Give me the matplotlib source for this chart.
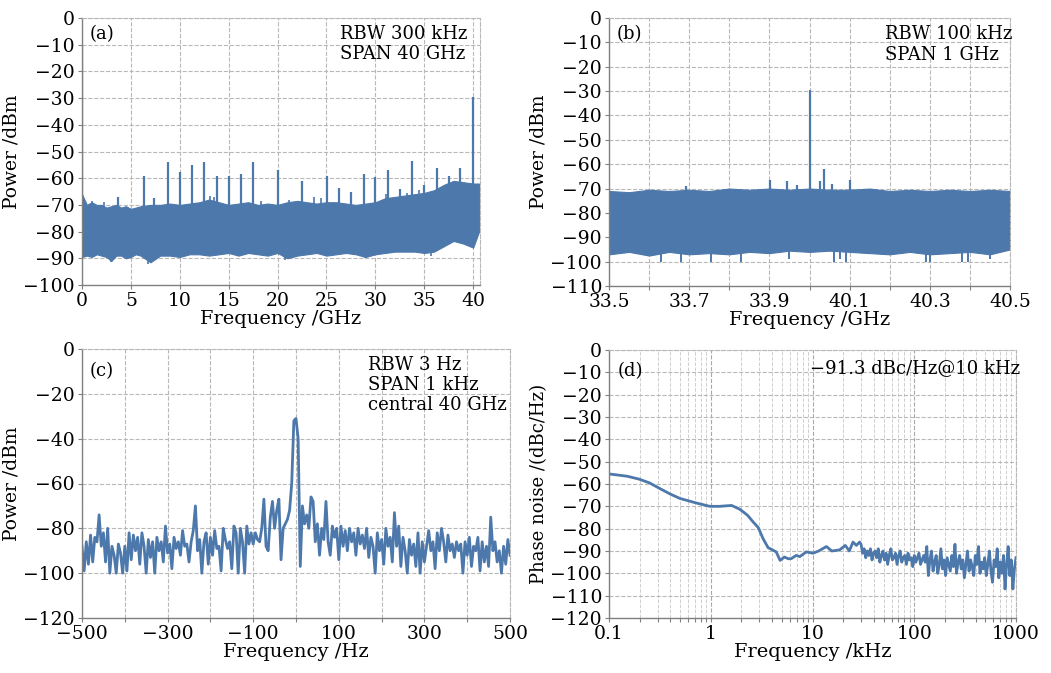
import numpy as np
import matplotlib
matplotlib.use("Agg")
import matplotlib.pyplot as plt
from matplotlib.ticker import FixedLocator, NullFormatter, FuncFormatter

plt.rcParams["font.family"] = ["DejaVu Serif"]
plt.rcParams["font.size"] = 12

BLUE = "#4d78ab"
GRID = "#b8b8b8"

# ---- (a) wide span, 0-40.6 GHz: noise-floor envelope + harmonic spikes
env_a_f = [0, 0.5, 1, 1.5, 2, 2.5, 3, 3.5, 4, 4.5, 5, 5.5, 6, 7, 8, 9, 10, 11, 12, 13, 14, 15,
           16, 17, 18, 19, 20, 21, 22, 23, 24, 25, 26, 27, 28, 29, 30, 31, 32, 33, 34, 35,
           36, 37, 38, 39, 40, 40.6]
env_a_hi = [-66, -70, -69, -70, -70, -71, -70.5, -70, -71, -70.5, -71.5, -71, -70.5, -70,
            -70, -69.5, -70, -69.5, -69, -68, -69, -70, -69.5, -69, -70, -69.5, -70, -69,
            -68.5, -69, -69.5, -69, -69, -69.5, -70, -69.5, -69, -67.5, -67, -66.5, -66,
            -65.5, -64.5, -62.5, -61, -61.5, -62, -62]
env_a_lo = [-89.5, -89, -89.5, -88.5, -89, -89.5, -91, -89, -89, -90, -89.5, -88.5, -89,
            -91.5, -89, -89, -89.5, -88.5, -88.5, -89, -88.5, -88, -89, -88, -88.5, -89,
            -88, -90, -89, -88.5, -88, -89, -88.5, -88, -88.5, -89.5, -88.5, -88, -87.5,
            -87.5, -87.5, -88, -87.5, -85.5, -83.5, -84.5, -86, -80]
spike_a_f = [0.02, 3.7, 6.3, 7.4, 8.75, 10.0, 11.25, 12.5, 13.85, 15.05, 16.25, 17.5, 20.0,
             22.5, 25.05, 26.3, 27.55, 28.8, 30.0, 31.3, 32.5, 33.75, 35.0, 36.3, 37.5, 38.7, 40.0]
spike_a_p = [-10, -67, -59, -67.5, -54, -57.5, -55, -54, -59, -59, -58.5, -54, -57, -61, -59,
             -63.5, -65, -58.5, -59.5, -57, -64, -53.5, -62.5, -56, -59, -56, -29.5]
small_a_f = [1.0, 2.2, 13.1, 13.5, 18.3, 21.2, 23.7, 24.4, 31.1, 33.2, 34.5]
small_a_p = [-68.5, -69, -66.5, -67, -68.5, -68, -67, -67.5, -66, -65.5, -64.5]
dip_a_f = [3.0, 6.8, 20.8, 28.9, 35.7]
dip_a_p = [-91.5, -92, -90.5, -90, -89]

# ---- (b) 1 GHz span around the tone
env_b_f = [0, 0.05, 0.1, 0.15, 0.2, 0.25, 0.3, 0.35, 0.4, 0.45, 0.5, 0.55, 0.6, 0.65, 0.7,
           0.75, 0.8, 0.85, 0.9, 0.95, 1.0]
env_b_hi = [-71, -71.5, -70.5, -71, -70.5, -71, -70, -70.5, -70, -70.5, -70, -70.5, -70.5,
            -70, -71, -70.5, -71, -70.5, -71, -70.5, -71]
env_b_lo = [-97, -96, -97.5, -96, -97, -96.5, -97, -96, -96.5, -95.5, -96, -95.5, -96, -96.5,
            -97, -96, -97, -96.5, -96, -97, -95]
spike_b_f = [0.193, 0.401, 0.445, 0.469, 0.502, 0.526, 0.536, 0.555, 0.601]
spike_b_p = [-69, -66.5, -67, -68.5, -29.5, -67, -62, -68, -66.5]
dip_b_f = [0.13, 0.18, 0.255, 0.33, 0.45, 0.56, 0.575, 0.59, 0.79, 0.80, 0.88, 0.895, 0.95]
dip_b_p = [-100, -100, -100, -100, -99, -100, -99, -100, -100, -100, -100, -100, -99]
tick_b_labels = ["33.5", "", "33.7", "", "33.9", "", "40.1", "", "40.3", "", "40.5"]

# ---- (c) 1 kHz span, 5 Hz steps from -500 to 500 Hz
power_c = [
    -88, -99, -86, -96, -83, -95, -84, -86, -74, -88,
    -82, -95, -80, -100, -88, -92, -100, -87, -91, -100,
    -88, -99, -82, -94, -83, -90, -84, -96, -82, -88,
    -100, -85, -93, -86, -100, -84, -90, -86, -95, -79,
    -91, -87, -98, -84, -89, -86, -92, -81, -88, -87,
    -95, -86, -81, -70, -90, -85, -100, -86, -82, -96,
    -84, -92, -81, -89, -88, -99, -80, -85, -89, -86,
    -98, -79, -82, -100, -80, -86, -100, -79, -87, -82,
    -87, -82, -85, -86, -80, -67, -88, -90, -75, -68,
    -80, -72, -67, -94, -80, -78, -76, -72, -60, -32,
    -31,
    -40, -97, -70, -78, -74, -80, -66, -68, -86, -78,
    -92, -80, -85, -68, -86, -92, -79, -84, -80, -94,
    -79, -88, -81, -90, -80, -86, -82, -92, -80, -87,
    -83, -89, -80, -93, -84, -88, -100, -82, -90, -85,
    -96, -80, -88, -84, -95, -73, -88, -79, -97, -84,
    -90, -100, -85, -92, -87, -97, -82, -100, -86, -95,
    -88, -81, -90, -86, -98, -82, -90, -80, -86, -95,
    -83, -90, -87, -93, -86, -90, -87, -100, -86, -92,
    -84, -97, -88, -90, -84, -99, -86, -95, -88, -97,
    -75, -90, -86, -95, -90, -100, -88, -96, -85, -92,
]
freq_c = np.linspace(-500, 500, len(power_c))

# ---- (d) phase noise, smooth part then noisy part
freq_d1 = [0.1, 0.15, 0.197, 0.25, 0.315, 0.4, 0.5, 0.6, 0.72, 0.85, 0.98, 1.22, 1.6, 1.93,
           2.3, 2.61, 2.93, 3.27, 3.66, 4.1, 4.4, 4.8, 5.3, 5.8, 6.2, 6.9, 7.5, 8.7, 10.1,
           11.5, 13.7, 15.5, 18.5, 21, 23, 25, 27, 29]
pn_d1 = [-55.5, -56.5, -57.8, -59.5, -62, -64.5, -66.5, -67.5, -68.5, -69.3, -70, -70,
         -69.6, -71.3, -74, -77, -79.5, -84.5, -88.5, -89.7, -90.4, -94.2, -92.7, -93.5,
         -93.4, -92, -92.5, -90.4, -91, -90, -88, -90, -89.5, -87.5, -90, -86, -87.5, -86]
pn_d2 = [
    -87, -91, -89, -93, -90, -92, -89, -94, -91, -90, -93, -89, -95, -92, -90, -94, -91,
    -96, -92, -89, -94, -93, -91, -96, -92, -90, -95, -93, -92, -96, -91, -94, -93, -97,
    -92, -95, -93, -91, -96, -94, -92, -95,
    -88, -101, -94, -90, -99, -95, -92, -100, -96, -89, -98, -94, -101, -93, -96, -99,
    -92, -97, -87, -100, -95, -92, -98, -94, -102, -96, -90, -99, -94, -97, -101, -92,
    -96, -88, -100, -95, -98, -93, -101, -96, -90, -99, -104, -94, -97, -89, -102, -95,
    -100, -92, -107, -96, -88, -101, -94, -107, -98, -93,
]
freq_d2 = np.geomspace(30, 1000, len(pn_d2))


def style_axes(ax):
    ax.grid(True, which="major", color=GRID, linestyle="--", linewidth=0.8)
    for side in ("top", "right"):
        ax.spines[side].set_color(GRID)
        ax.spines[side].set_linestyle("--")
        ax.spines[side].set_linewidth(0.8)
    for side in ("left", "bottom"):
        ax.spines[side].set_color("#808080")
        ax.spines[side].set_linewidth(1.0)
    ax.tick_params(axis="both", which="both", color="#808080", length=3, width=0.8,
                   labelsize=13.5, pad=2)
    ax.set_axisbelow(True)


fig = plt.figure(figsize=(10.51, 6.73), dpi=100)
W, H = 1051.0, 673.0


def add_axes(l, r, t, b):
    return fig.add_axes([l / W, 1 - b / H, (r - l) / W, (b - t) / H])


ax_a = add_axes(82, 480, 18, 285)
ax_b = add_axes(609, 1010, 18, 286)
ax_c = add_axes(82, 510, 349, 618)
ax_d = add_axes(609, 1016, 350, 618)

# (a)
ax_a.fill_between(env_a_f, env_a_lo, env_a_hi, color=BLUE, linewidth=0.8, edgecolor=BLUE)
ax_a.vlines(spike_a_f, -75, spike_a_p, color=BLUE, linewidth=1.6)
ax_a.vlines(small_a_f, -75, small_a_p, color=BLUE, linewidth=1.2)
ax_a.vlines(dip_a_f, -85, dip_a_p, color=BLUE, linewidth=1.2)
ax_a.set_xlim(0, 40.7)
ax_a.set_ylim(-100, 0)
ax_a.set_xticks(np.arange(0, 41, 5))
ax_a.set_yticks(np.arange(-100, 1, 10))
ax_a.set_xlabel("Frequency /GHz", fontsize=14, labelpad=0)
ax_a.set_ylabel("Power /dBm", fontsize=13.5, labelpad=2)
style_axes(ax_a)
ax_a.text(0.02, 0.975, "(a)", transform=ax_a.transAxes, ha="left", va="top", fontsize=13)
ax_a.text(0.648, 0.975, "RBW 300 kHz\nSPAN 40 GHz", transform=ax_a.transAxes,
          ha="left", va="top", fontsize=13, linespacing=1.2)

# (b)
ax_b.fill_between(env_b_f, env_b_lo, env_b_hi, color=BLUE, linewidth=0.8, edgecolor=BLUE)
ax_b.vlines(spike_b_f, -80, spike_b_p, color=BLUE, linewidth=1.6)
ax_b.vlines(dip_b_f, -90, dip_b_p, color=BLUE, linewidth=1.4)
ax_b.set_xlim(0, 1)
ax_b.set_ylim(-110, 0)
ax_b.set_xticks(np.linspace(0, 1, len(tick_b_labels)))
ax_b.set_xticklabels(tick_b_labels)
ax_b.set_yticks(np.arange(-110, 1, 10))
ax_b.set_xlabel("Frequency /GHz", fontsize=14, labelpad=0)
ax_b.set_ylabel("Power /dBm", fontsize=13.5, labelpad=2)
style_axes(ax_b)
ax_b.text(0.02, 0.975, "(b)", transform=ax_b.transAxes, ha="left", va="top", fontsize=13)
ax_b.text(0.688, 0.975, "RBW 100 kHz\nSPAN 1 GHz", transform=ax_b.transAxes,
          ha="left", va="top", fontsize=13, linespacing=1.2)

# (c)
ax_c.plot(freq_c, power_c, color=BLUE, linewidth=2.0)
ax_c.set_xlim(-500, 500)
ax_c.set_ylim(-120, 0)
ax_c.set_xticks(np.arange(-500, 501, 100))
ax_c.set_xticklabels(["\u2212500", "", "\u2212300", "", "\u2212100", "", "100", "", "300", "", "500"])
ax_c.set_yticks(np.arange(-120, 1, 20))
ax_c.set_xlabel("Frequency /Hz", fontsize=14, labelpad=0)
ax_c.set_ylabel("Power /dBm", fontsize=13.5, labelpad=2)
style_axes(ax_c)
ax_c.text(0.017, 0.95, "(c)", transform=ax_c.transAxes, ha="left", va="top", fontsize=13)
ax_c.text(0.668, 0.975, "RBW 3 Hz\nSPAN 1 kHz\ncentral 40 GHz", transform=ax_c.transAxes,
          ha="left", va="top", fontsize=13, linespacing=1.15)

# (d)
ax_d.plot(list(freq_d1) + list(freq_d2), pn_d1 + pn_d2, color=BLUE, linewidth=2.0)
ax_d.set_xscale("log")
ax_d.set_xlim(0.1, 1000)
ax_d.set_ylim(-120, 0)
ax_d.set_yticks(np.arange(-120, 1, 10))
ax_d.xaxis.set_major_locator(FixedLocator([0.1, 1, 10, 100, 1000]))
ax_d.xaxis.set_major_formatter(FuncFormatter(lambda v, p: "%g" % v))
minor = [m * d for d in (0.1, 1, 10, 100) for m in range(2, 10)]
ax_d.xaxis.set_minor_locator(FixedLocator(minor))
ax_d.xaxis.set_minor_formatter(NullFormatter())
ax_d.set_xlabel("Frequency /kHz", fontsize=14, labelpad=0)
ax_d.set_ylabel("Phase noise /(dBc/Hz)", fontsize=13, labelpad=2)
style_axes(ax_d)
ax_d.grid(True, which="minor", axis="x", color="#cfcfcf", linestyle="--", linewidth=0.7)
ax_d.grid(True, which="major", axis="x", color="#a8a8a8", linestyle="--", linewidth=0.8)
ax_d.text(0.02, 0.955, "(d)", transform=ax_d.transAxes, ha="left", va="top", fontsize=13)
ax_d.text(0.494, 0.965, "\u221291.3 dBc/Hz@10 kHz", transform=ax_d.transAxes,
          ha="left", va="top", fontsize=13)

fig.savefig("out.png", dpi=100)
